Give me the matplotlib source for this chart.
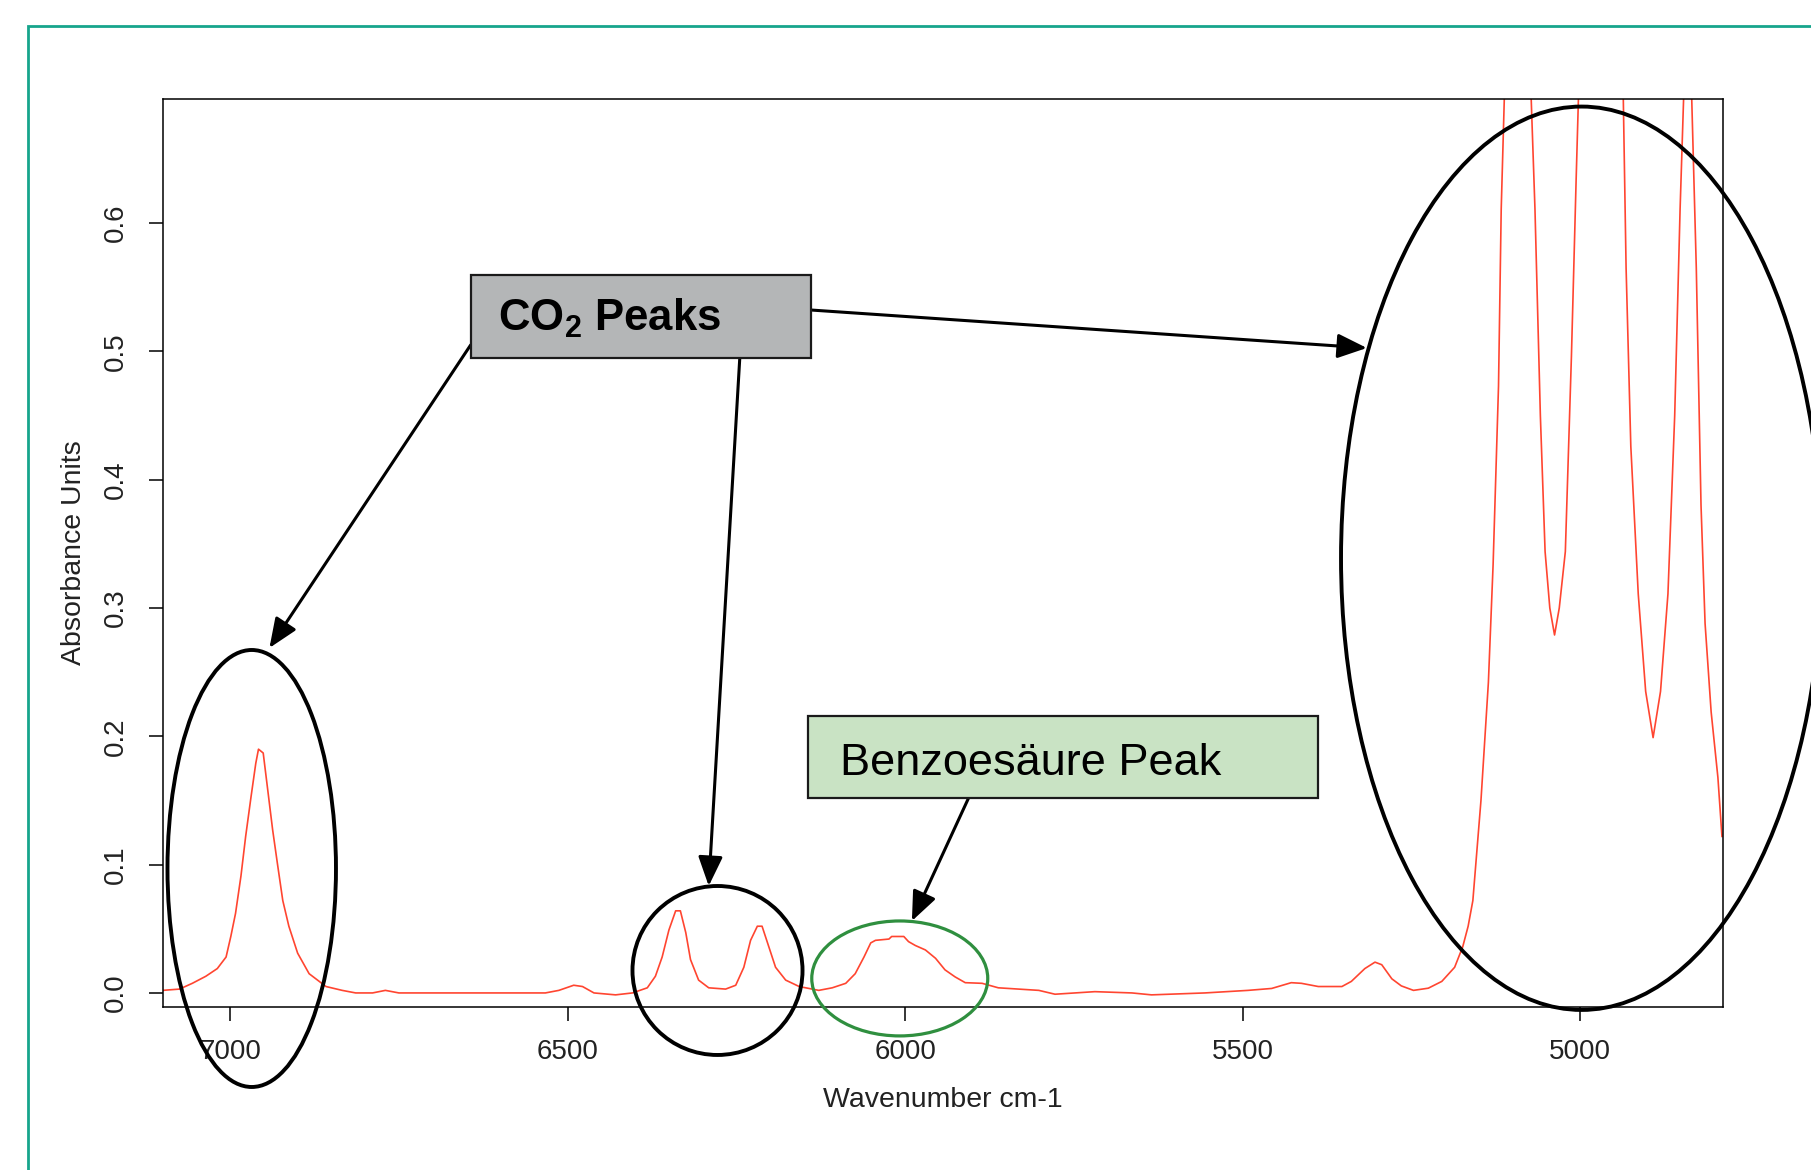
import matplotlib
matplotlib.use("Agg")
import matplotlib.pyplot as plt
from matplotlib.patches import Ellipse, Rectangle

# NIR spectrum, absorbance vs. wavenumber (cm-1)
wavenumber = [7100, 7075, 7056, 7036, 7019, 7006, 6999, 6992, 6984, 6977,
              6969, 6962, 6958, 6951, 6945, 6937, 6930, 6922, 6913, 6900,
              6883, 6858, 6834, 6814, 6789, 6770, 6750, 6650, 6533, 6513,
              6491, 6478, 6461, 6429, 6404, 6382, 6370, 6360, 6350, 6340,
              6333, 6325, 6318, 6306, 6291, 6266, 6251, 6239, 6229, 6219,
              6212, 6202, 6192, 6177, 6157, 6128, 6108, 6088, 6074, 6061,
              6051, 6044, 6024, 6020, 6002, 5995, 5985, 5970, 5955, 5941,
              5926, 5911, 5886, 5862, 5802, 5778, 5719, 5664, 5635, 5556,
              5492, 5457, 5428, 5413, 5388, 5353, 5339, 5319, 5304, 5294,
              5279, 5265, 5247, 5225, 5205, 5186, 5174, 5166, 5159, 5147,
              5136, 5129, 5121, 5117, 5108, 5093, 5078, 5067, 5059, 5052,
              5045, 5038, 5031, 5022, 5013, 5006, 4996, 4970, 4940, 4932,
              4925, 4914, 4903, 4892, 4881, 4870, 4860, 4852, 4843, 4838,
              4828, 4821, 4815, 4806, 4796, 4790]
absorbance = [0.002, 0.003, 0.0075, 0.013, 0.019, 0.028, 0.044, 0.062, 0.091, 0.122,
              0.153, 0.179, 0.190, 0.187, 0.161, 0.127, 0.101, 0.072, 0.052, 0.031,
              0.015, 0.005, 0.002, 0.0, 0.0, 0.002, 0.0, 0.0, 0.0, 0.002,
              0.006, 0.005, 0.0, -0.0015, 0.0, 0.004, 0.013, 0.028, 0.049, 0.064,
              0.064, 0.047, 0.026, 0.010, 0.004, 0.003, 0.006, 0.020, 0.041, 0.052,
              0.052, 0.036, 0.020, 0.010, 0.005, 0.002, 0.004, 0.0075, 0.015, 0.028,
              0.039, 0.041, 0.042, 0.044, 0.044, 0.040, 0.037, 0.0335, 0.027, 0.018,
              0.0125, 0.008, 0.0075, 0.004, 0.002, -0.001, 0.001, 0.0, -0.0015, 0.0,
              0.002, 0.0035, 0.008, 0.0075, 0.005, 0.005, 0.009, 0.019, 0.024, 0.022,
              0.011, 0.0055, 0.002, 0.0037, 0.009, 0.020, 0.036, 0.052, 0.072, 0.150,
              0.242, 0.334, 0.473, 0.611, 0.78, 0.95, 0.78, 0.611, 0.45, 0.344,
              0.30, 0.279, 0.30, 0.344, 0.496, 0.634, 0.82, 1.0, 0.82, 0.565,
              0.426, 0.311, 0.235, 0.199, 0.235, 0.311, 0.45, 0.611, 0.76, 0.76,
              0.565, 0.38, 0.288, 0.219, 0.168, 0.122]

x_ticks = [7000, 6500, 6000, 5500, 5000]
y_ticks = [0.0, 0.1, 0.2, 0.3, 0.4, 0.5, 0.6]
y_tick_labels = ["0.0", "0.1", "0.2", "0.3", "0.4", "0.5", "0.6"]

plt.rcParams['font.family'] = ['Liberation Sans', 'DejaVu Sans']
plt.rcParams['mathtext.fontset'] = 'custom'
plt.rcParams['mathtext.rm'] = 'Liberation Sans'
plt.rcParams['mathtext.bf'] = 'Liberation Sans:bold'

fig = plt.figure(figsize=(18.11, 11.70), dpi=100)

# teal slide frame (only top and left edges are visible)
fig.add_artist(Rectangle((0.0155, -0.05), 1.1, 1.0278, transform=fig.transFigure,
                         fill=False, edgecolor='#16a58c', lw=2.0))

ax = fig.add_axes([0.0898, 0.1396, 0.8614, 0.7754])
ax.plot(wavenumber, absorbance, color='#ff4530', lw=1.2)

ax.set_xlim(7100, 4789)
ax.set_ylim(-0.0107, 0.6964)
ax.set_xticks(x_ticks)
ax.set_xticklabels([str(t) for t in x_ticks])
ax.set_yticks(y_ticks)
ax.set_yticklabels(y_tick_labels, rotation=90, va='center')

for side in ['left', 'right', 'top', 'bottom']:
    ax.spines[side].set_linewidth(1.1)
ax.tick_params(axis='both', direction='out', length=10, width=1.1,
               labelsize=20, labelcolor='#222222')
ax.tick_params(axis='x', pad=13)
ax.tick_params(axis='y', pad=14)

ax.set_xlabel("Wavenumber cm-1", fontsize=20.5, color='#222222', labelpad=16)
ax.set_ylabel("Absorbance Units", fontsize=20.5, color='#222222', labelpad=12)

# circles around the peaks
rings = [
    ((6968, 0.097), 249.6, 0.3406, 'black'),
    ((6278, 0.0175), 251.9, 0.1317, 'black'),
    ((6008, 0.0113), 260.7, 0.0896, '#2f8f3f'),
    ((4998, 0.3388), 712.6, 0.7041, 'black'),
]
for center, w, h, col in rings:
    ax.add_patch(Ellipse(center, w, h, fill=False, edgecolor=col,
                         lw=2.8 if col == 'black' else 2.3, clip_on=False, zorder=4))

# label boxes
ax.add_patch(Rectangle((6139.9, 0.4952), 503.7, 0.0642, facecolor='#b4b6b7',
                       edgecolor='#1a1a1a', lw=1.6, clip_on=False, zorder=6))
ax.text(6603, 0.516, r'CO$_\mathbf{2}$ Peaks', fontsize=31.5, fontweight='bold',
        va='baseline', ha='left', zorder=7)

ax.add_patch(Rectangle((5387.7, 0.152), 755.6, 0.0639, facecolor='#c9e3c4',
                       edgecolor='#1a1a1a', lw=1.6, clip_on=False, zorder=6))
ax.text(6097, 0.170, 'Benzoesäure Peak', fontsize=32.5, va='baseline', ha='left',
        zorder=7)

# arrows from the boxes to the marked regions
arrows = [
    ((6643.6, 0.5051), (6941.8, 0.2689)),
    ((6245, 0.4949), (6291, 0.0834)),
    ((6140, 0.5323), (5316, 0.5027)),
    ((5906, 0.152), (5990, 0.0561)),
]
for start, tip in arrows:
    ax.annotate('', xy=tip, xytext=start, annotation_clip=False, zorder=5,
                arrowprops=dict(arrowstyle='-|>,head_length=1.8,head_width=0.75',
                                mutation_scale=10, lw=2.2, color='black',
                                shrinkA=0, shrinkB=0))

plt.savefig("out.png", dpi=100)
